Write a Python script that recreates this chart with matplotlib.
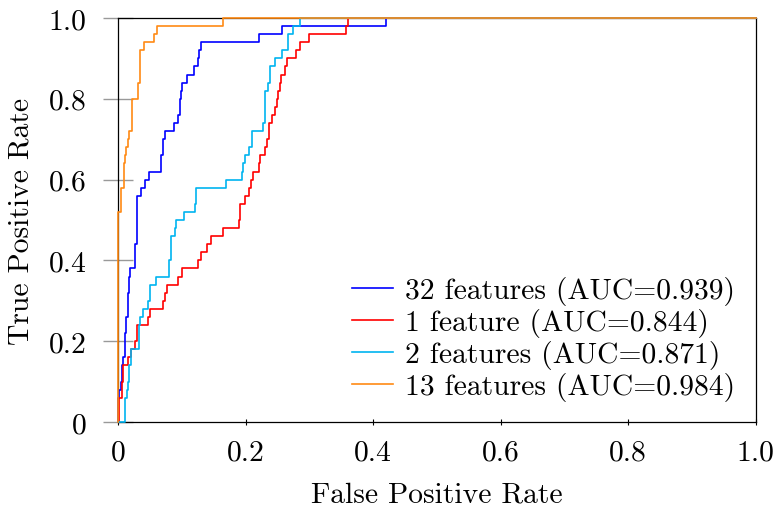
import matplotlib.pyplot as plt
import numpy as np

# ROC corner points (fpr where the curve steps up, tpr reached)
fpr_32 = [0.0, 0.000, 0.002, 0.005, 0.006, 0.008, 0.011, 0.013, 0.015, 0.017, 0.019,
          0.027, 0.030, 0.036, 0.042, 0.049, 0.067, 0.070, 0.074, 0.088, 0.094,
          0.097, 0.099, 0.100, 0.109, 0.119, 0.125, 0.127, 0.130, 0.221, 0.257,
          0.420, 1.0]
tpr_32 = [0.0, 0.06, 0.08, 0.10, 0.14, 0.16, 0.22, 0.26, 0.32, 0.36, 0.38,
          0.44, 0.56, 0.58, 0.60, 0.62, 0.66, 0.70, 0.72, 0.74, 0.76,
          0.80, 0.82, 0.84, 0.86, 0.88, 0.90, 0.92, 0.94, 0.96, 0.98,
          1.00, 1.00]

fpr_1 = [0.0, 0.002, 0.006, 0.008, 0.016, 0.021, 0.026, 0.030, 0.047, 0.050, 0.071,
         0.073, 0.077, 0.094, 0.101, 0.125, 0.130, 0.139, 0.146, 0.164, 0.190,
         0.192, 0.199, 0.205, 0.208, 0.211, 0.221, 0.223, 0.231, 0.233, 0.237,
         0.241, 0.246, 0.249, 0.251, 0.254, 0.256, 0.262, 0.265, 0.279, 0.285,
         0.300, 0.358, 0.361, 1.0]
tpr_1 = [0.0, 0.06, 0.10, 0.14, 0.16, 0.18, 0.20, 0.24, 0.26, 0.28, 0.30,
         0.32, 0.34, 0.36, 0.38, 0.40, 0.42, 0.44, 0.46, 0.48, 0.50,
         0.54, 0.56, 0.58, 0.60, 0.62, 0.64, 0.66, 0.68, 0.70, 0.74,
         0.76, 0.78, 0.80, 0.82, 0.84, 0.86, 0.88, 0.90, 0.92, 0.94,
         0.96, 0.98, 1.00, 1.00]

fpr_2 = [0.0, 0.011, 0.014, 0.016, 0.018, 0.021, 0.033, 0.034, 0.040, 0.0475, 0.051,
         0.059, 0.080, 0.083, 0.089, 0.091, 0.103, 0.121, 0.122, 0.169, 0.194,
         0.196, 0.199, 0.205, 0.210, 0.227, 0.230, 0.236, 0.238, 0.246, 0.257,
         0.266, 0.267, 0.274, 0.286, 1.0]
tpr_2 = [0.0, 0.06, 0.08, 0.10, 0.14, 0.18, 0.24, 0.26, 0.28, 0.30, 0.34,
         0.36, 0.40, 0.46, 0.48, 0.50, 0.52, 0.54, 0.58, 0.60, 0.62,
         0.64, 0.66, 0.68, 0.72, 0.74, 0.82, 0.84, 0.88, 0.90, 0.92,
         0.94, 0.96, 0.98, 1.00, 1.00]

fpr_13 = [0.0, 0.000, 0.005, 0.009, 0.011, 0.013, 0.016, 0.018, 0.022, 0.031, 0.034,
          0.041, 0.057, 0.061, 0.165, 1.0]
tpr_13 = [0.0, 0.52, 0.58, 0.64, 0.66, 0.68, 0.70, 0.72, 0.80, 0.84, 0.92,
          0.94, 0.96, 0.98, 1.00, 1.00]

labels = ['32 features (AUC=0.939)', '1 feature (AUC=0.844)',
          '2 features (AUC=0.871)', '13 features (AUC=0.984)']
colors = ['#0000ff', '#ff0000', '#00b4f0', '#ff8a14']
ticks = [0, 0.2, 0.4, 0.6, 0.8, 1.0]
tick_labels = ['0', '0.2', '0.4', '0.6', '0.8', '1.0']

plt.rcParams['font.family'] = 'serif'
plt.rcParams['font.serif'] = ['cmr10']
plt.rcParams['axes.formatter.use_mathtext'] = True
plt.rcParams['font.size'] = 21.3

fig = plt.figure(figsize=(7.76, 5.10), dpi=100)
ax = fig.add_axes([0.152, 0.1706, 0.822, 0.7921])

curves = [(fpr_32, tpr_32), (fpr_1, tpr_1), (fpr_2, tpr_2), (fpr_13, tpr_13)]
for (x, y), c, lab in zip(curves, colors, labels):
    ax.plot(x, y, drawstyle='steps-post', color=c, lw=1.2, label=lab,
            zorder=3, clip_on=False)

ax.set_xlim(0, 1)
ax.set_ylim(0, 1)
ax.set_xticks(ticks)
ax.set_xticklabels(tick_labels)
ax.set_yticks(ticks)
ax.set_yticklabels(tick_labels)
ax.tick_params(axis='x', direction='inout', length=5, width=0.8, color='black', pad=10)
ax.tick_params(axis='y', direction='inout', length=21, width=1.0, color='#999999', pad=12)
for s in ax.spines.values():
    s.set_linewidth(0.9)

ax.set_xlabel('False Positive Rate', labelpad=11)
ax.set_ylabel('True Positive Rate', labelpad=10)

ax.legend(loc='lower right', frameon=False, handlelength=1.4, handletextpad=0.4,
          labelspacing=0.1, borderaxespad=0.3)

fig.savefig('out.png', dpi=100)
